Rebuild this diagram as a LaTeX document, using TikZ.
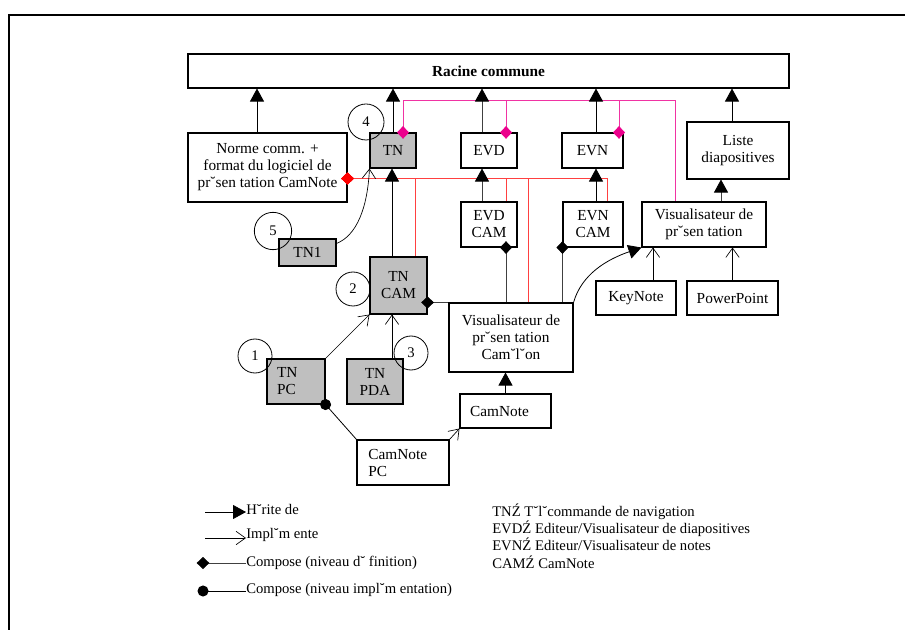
\documentclass[tikz,border=0pt]{standalone}
\usepackage{fontspec}
\setmainfont{Liberation Serif}
\usepackage{tikz}
\usetikzlibrary{arrows.meta, calc}

\begin{document}
\begin{tikzpicture}[x=0.75pt,y=-0.75pt,
    every node/.style={font=\fontsize{11}{12.75}\selectfont},
    bloc/.style={draw,line width=0.8pt,align=center,inner sep=1pt,font=\fontsize{11.5}{12.75}\selectfont},
    gris/.style={bloc,fill=black!25},
    numero/.style={draw,circle,line width=0.6pt,minimum size=25.5pt,inner sep=0pt},
    legende/.style={anchor=west,inner sep=0pt},
    herite/.style={-{Triangle[length=9.75pt,width=10.5pt,color=black]},line width=0.6pt},
    implem/.style={-{Straight Barb[length=7pt,width=10pt]},line width=0.5pt},
    compdef/.style={{Diamond[length=9.5pt,width=9pt,color=black]}-,shorten <=-4.75pt,line width=0.6pt,draw=black!75},
    compimp/.style={{Circle[length=8.25pt]}-,shorten <=-4.1pt,line width=0.6pt},
    rouge/.style={{Diamond[length=9.5pt,width=9pt,color=red]}-,shorten <=-4.75pt,draw=red!75,line width=0.6pt},
    rose/.style={{Diamond[length=9.5pt,width=9pt,color=magenta]}-,shorten <=-4.75pt,draw=magenta!80,line width=0.6pt}]
  \useasboundingbox (0,0) rectangle (905,630);
  \draw[line width=1pt] (905,15) -- (9,15) -- (9,630);

  \node[bloc,minimum width=450.75pt,minimum height=25.5pt,font=\fontsize{11.5}{12.75}\selectfont\bfseries] (racine) at (488.5,71) {Racine commune};
  \node[bloc,minimum width=119.25pt,minimum height=51.75pt] (norme) at (267.5,167.5) {Norme comm. +\\format du logiciel de\\pr˘sen tation CamNote};
  \node[gris,minimum width=34.5pt,minimum height=26.25pt] (tn) at (393,150.5) {TN};
  \node[bloc,minimum width=42pt,minimum height=26.25pt] (evd) at (489,150.5) {EVD};
  \node[bloc,minimum width=45.75pt,minimum height=26.25pt] (evn) at (592.5,150.5) {EVN};
  \node[bloc,minimum width=76.5pt,minimum height=42.75pt] (liste) at (738,150.5) {Liste\\diapositives};
  \node[bloc,minimum width=42pt,minimum height=33.75pt] (evdcam) at (489,224.5) {EVD\\CAM};
  \node[bloc,minimum width=45pt,minimum height=33.75pt] (evncam) at (593,224.5) {EVN\\CAM};
  \node[bloc,minimum width=93pt,minimum height=33.75pt] (visu) at (704,224.5) {Visualisateur de\\pr˘sen tation};
  \node[gris,minimum width=42.75pt,minimum height=20.25pt] (tnun) at (307.5,252.5) {TN1};
  \node[gris,minimum width=42.75pt,minimum height=42.75pt] (tncam) at (398.5,285.5) {TN\\CAM};
  \node[bloc,minimum width=93pt,minimum height=51.75pt] (visucam) at (511,337.5) {Visualisateur de\\pr˘sen tation\\Cam˘l˘on};
  \node[gris,minimum width=43.5pt,minimum height=33.75pt,text width=28.5pt,align=left] (tnpc) at (296,381.5) {TN\\PC};
  \node[gris,minimum width=42pt,minimum height=33.75pt] (tnpda) at (375,381.5) {TN\\PDA};
  \node[bloc,minimum width=68.25pt,minimum height=25.5pt,text width=53pt,align=left] (camnote) at (505.5,411) {CamNote};
  \node[bloc,minimum width=69pt,minimum height=33.75pt,text width=52pt,align=left] (camnotepc) at (403,462.5) {CamNote\\PC};
  \node[bloc,minimum width=60pt,minimum height=25.5pt] (keynote) at (636,298) {KeyNote};
  \node[bloc,minimum width=68.25pt,minimum height=25.5pt] (powerpoint) at (732.5,298) {PowerPoint};

  \coordinate (bus) at ($(racine.south)+(0,12)$);
  \coordinate (visurose) at ($(visu.north)+(-29,0)$);
  \draw[rose] ($(tn.north)+(10,0)$) |- (visurose |- bus) -- (visurose);
  \draw[rose] ($(evd.north)+(17,0)$) |- (visurose |- bus) -- (visurose);
  \draw[rose] ($(evn.north)+(26.5,0)$) |- (visurose |- bus) -- (visurose);

  \coordinate (rougeA) at ($(norme.south east)+(0,-24)$);
  \draw[rouge] (rougeA) -| ($(tncam.north)+(16.5,0)$);
  \draw[rouge] (rougeA) -| ($(evdcam.north)+(17,0)$);
  \draw[rouge] (rougeA) -| ($(visucam.north)+(17,0)$);
  \draw[rouge] (rougeA) -| ($(evncam.north)+(14,0)$);

  \coordinate (normeup) at ($(norme.north)+(-10.5,0)$);
  \coordinate (evdup) at ($(evd.north)+(-7,0)$);
  \coordinate (evnup) at ($(evn.north)+(3.5,0)$);
  \coordinate (listeup) at ($(liste.north)+(-6,0)$);
  \coordinate (tncamup) at ($(tncam.north)+(-6.5,0)$);
  \coordinate (evdcamup) at ($(evdcam.north)+(-7,0)$);
  \coordinate (evncamup) at ($(evncam.north)+(3,0)$);
  \coordinate (visuup) at ($(visu.north)+(17,0)$);
  \draw[herite] (normeup) -- (normeup |- racine.south);
  \draw[herite] (tn.north) -- (tn.north |- racine.south);
  \draw[herite,draw=black!75] (evdup) -- (evdup |- racine.south);
  \draw[herite] (evnup) -- (evnup |- racine.south);
  \draw[herite] (listeup) -- (listeup |- racine.south);
  \draw[herite] (tncamup) -- (tncamup |- tn.south);
  \draw[herite,draw=black!75] (evdcamup) -- (evdcamup |- evd.south);
  \draw[herite] (evncamup) -- (evncamup |- evn.south);
  \draw[herite,draw=black!75] (visuup) -- (visuup |- liste.south);
  \draw[herite] (camnote.north) -- (camnote.north |- visucam.south);
  \draw[herite] (visucam.north east) .. controls +(8,-28) and +(-35,12) .. (visu.south west);

  \coordinate (tnunout) at ($(tnun.north east)+(0,5)$);
  \coordinate (tnpdaup) at ($(tnpda.north)+(17,0)$);
  \coordinate (keynoteup) at ($(keynote.north)+(17,0)$);
  \draw[implem] (tnunout) .. controls +(20,-8) and +(-2,40) .. (tn.south west);
  \draw[implem] (tnpc.north east) -- (tncam.south west);
  \draw[implem] (tnpdaup) -- (tnpdaup |- tncam.south);
  \draw[implem] (camnotepc.north east) -- (camnote.south west);
  \draw[implem] (keynoteup) -- (keynoteup |- visu.south);
  \draw[implem] (powerpoint.north) -- (powerpoint.north |- visu.south);

  \coordinate (evdcamdown) at ($(evdcam.south)+(17,0)$);
  \draw[compdef] (tncam.east |- visucam.north) -- (visucam.north west);
  \draw[compdef] (evdcamdown) -- (evdcamdown |- visucam.north);
  \draw[compdef] (evncam.south west) -- (evncam.south west |- visucam.north);
  \draw[compimp] (tnpc.south east) -- (camnotepc.north west);

  \node[numero,minimum size=27pt] (n4) at (366,122) {4};
  \node[numero,minimum size=28pt] (n5) at (273,231) {5};
  \node[numero] (n2) at (353,289) {2};
  \node[numero] (n1) at (255,356) {1};
  \node[numero] (n3) at (411,353) {3};

  \node[legende] (lgher) at (246,509) {H˘rite de};
  \node[legende] (lgimp) at (246,535) {Impl˘m ente};
  \node[legende] (lgdef) at (246,563) {Compose (niveau d˘ finition)};
  \node[legende] (lgimpl) at (246,590) {Compose (niveau impl˘m entation)};
  \coordinate (lgherA) at (205,512);
  \coordinate (lgimpA) at (205,538);
  \coordinate (lgdefA) at (203,563);
  \coordinate (lgimplA) at (203,591);
  \draw[herite] (lgherA) -- (lgherA -| lgher.west);
  \draw[implem] (lgimpA) -- (lgimpA -| lgimp.west);
  \draw[compdef] (lgdefA) -- (lgdefA -| lgdef.west);
  \draw[compimp] (lgimplA) -- (lgimplA -| lgimpl.west);

  \node[anchor=west,align=left,inner sep=0pt,font=\fontsize{11}{13}\selectfont] (abrev) at (492,536)
    {TNŹ T˘l˘commande de navigation\\EVDŹ Editeur/Visualisateur de diapositives\\EVNŹ Editeur/Visualisateur de notes\\CAMŹ CamNote};
\end{tikzpicture}
\end{document}
